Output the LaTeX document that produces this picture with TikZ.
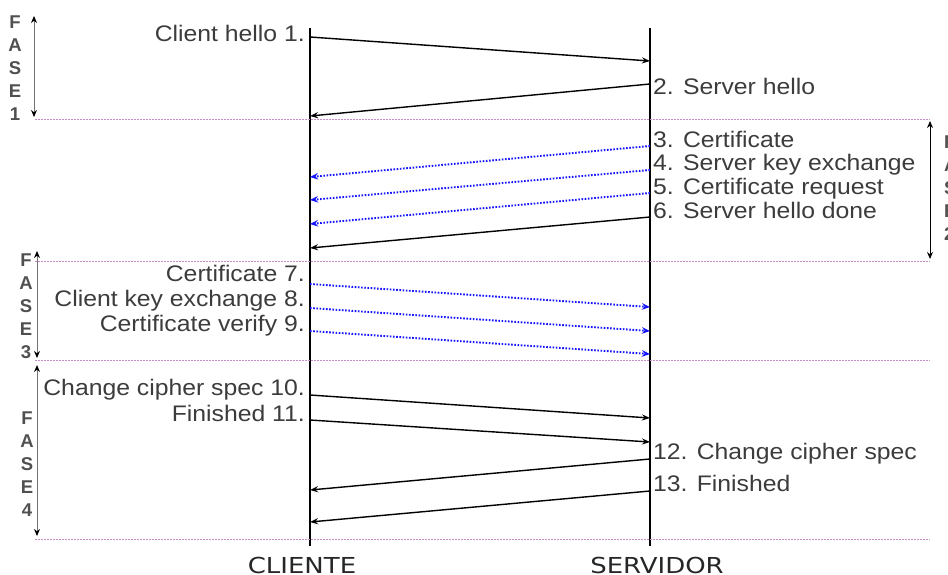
\documentclass[tikz,border=0pt]{standalone}
\usepackage{fontspec}
\usetikzlibrary{arrows.meta}
\newfontfamily\lblfont[FakeStretch=1.1]{Liberation Sans}
\newfontfamily\phasefont{Liberation Sans}
\newfontfamily\lifefont[FakeStretch=1.18]{DejaVu Sans}
\definecolor{txtgray}{RGB}{60,60,60}
\definecolor{sepcol}{RGB}{200,140,200}
\definecolor{msgblue}{RGB}{20,20,255}
\tikzset{
  msglbl/.style={font=\fontsize{22.5}{26}\selectfont\lblfont, text=txtgray, inner sep=0pt},
  phaselbl/.style={font=\fontsize{18.5}{22}\selectfont\phasefont\bfseries, text=txtgray!90, inner sep=0pt},
  lifelbl/.style={font=\fontsize{22}{26}\selectfont\lifefont, text=black!85, inner sep=0pt},
  lifeline/.style={line width=1.3pt, black},
  msgsolid/.style={line width=1.4pt, black, -{Stealth[length=8pt,width=6pt]}},
  msgdot/.style={line width=1.9pt, msgblue, dash pattern=on 1.6pt off 1.6pt, -{Stealth[length=8pt,width=6.5pt]}},
  sepline/.style={line width=0.8pt, sepcol, dash pattern=on 2pt off 1pt},
  phasearrow/.style={line width=1pt, black!55, {Stealth[black,length=7pt,width=6pt]}-{Stealth[black,length=7pt,width=6pt]}},
}
\begin{document}
\begin{tikzpicture}[x=1pt,y=-1pt]
\fill[white] (0,0) rectangle (948,574);
\useasboundingbox (0,0) rectangle (948,574);

% lifelines
\coordinate (ctop) at (310,28); \coordinate (cbot) at (310,546);
\coordinate (stop) at (650,28); \coordinate (sbot) at (650,546);
\draw[lifeline] (ctop) -- (cbot);
\draw[lifeline] (stop) -- (sbot);
\node[lifelbl] (cl) at (302,565) {CLIENTE};
\node[lifelbl] (sv) at (657,565) {SERVIDOR};

% separators
\coordinate (s1a) at (35,119); \coordinate (s1b) at (930,119);
\coordinate (s2a) at (35,261); \coordinate (s2b) at (930,261);
\coordinate (s3a) at (35,360); \coordinate (s3b) at (930,360);
\coordinate (s4a) at (35,539); \coordinate (s4b) at (930,539);
\draw[sepline] (s1a) -- (s1b);
\draw[sepline] (s2a) -- (s2b);
\draw[sepline] (s3a) -- (s3b);
\draw[sepline] (s4a) -- (s4b);

% phase arrows
\coordinate (p1a) at (34,16); \coordinate (p1b) at (34,117);
\coordinate (p2a) at (930,121); \coordinate (p2b) at (930,259);
\coordinate (p3a) at (37,251); \coordinate (p3b) at (37,358);
\coordinate (p4a) at (37,365); \coordinate (p4b) at (37,536);
\draw[phasearrow] (p1a) -- (p1b);
\draw[phasearrow, black] (p2a) -- (p2b);
\draw[phasearrow] (p3a) -- (p3b);
\draw[phasearrow] (p4a) -- (p4b);

% phase letters
\foreach \ch [count=\i from 0] in {F,A,S,E,1} { \node[phaselbl] (f1\i) at (15,22+23*\i) {\ch}; }
\foreach \ch [count=\i from 0] in {F,A,S,E,2} { \node[phaselbl, anchor=west] (f2\i) at (944,142+23*\i) {\ch}; }
\foreach \ch [count=\i from 0] in {F,A,S,E,3} { \node[phaselbl] (f3\i) at (26,260+23*\i) {\ch}; }
\foreach \ch [count=\i from 0] in {F,A,S,E,4} { \node[phaselbl] (f4\i) at (27,418+23*\i) {\ch}; }

% message endpoints
\coordinate (m1a) at (310,37);  \coordinate (m1b) at (650,61);
\coordinate (m2a) at (650,84);  \coordinate (m2b) at (310,116);
\coordinate (m3a) at (650,146); \coordinate (m3b) at (310,177);
\coordinate (m4a) at (650,170); \coordinate (m4b) at (310,200);
\coordinate (m5a) at (650,193); \coordinate (m5b) at (310,224);
\coordinate (m6a) at (650,217); \coordinate (m6b) at (310,248);
\coordinate (m7a) at (310,284); \coordinate (m7b) at (650,307);
\coordinate (m8a) at (310,308); \coordinate (m8b) at (650,331);
\coordinate (m9a) at (310,331); \coordinate (m9b) at (650,354);
\coordinate (m10a) at (310,395); \coordinate (m10b) at (650,418);
\coordinate (m11a) at (310,420); \coordinate (m11b) at (650,442);
\coordinate (m12a) at (650,459); \coordinate (m12b) at (310,490);
\coordinate (m13a) at (650,491); \coordinate (m13b) at (310,522);

\draw[msgsolid] (m1a) -- (m1b);
\draw[msgsolid] (m2a) -- (m2b);
\draw[msgdot] (m3a) -- (m3b);
\draw[msgdot] (m4a) -- (m4b);
\draw[msgdot] (m5a) -- (m5b);
\draw[msgsolid] (m6a) -- (m6b);
\draw[msgdot] (m7a) -- (m7b);
\draw[msgdot] (m8a) -- (m8b);
\draw[msgdot] (m9a) -- (m9b);
\draw[msgsolid] (m10a) -- (m10b);
\draw[msgsolid] (m11a) -- (m11b);
\draw[msgsolid] (m12a) -- (m12b);
\draw[msgsolid] (m13a) -- (m13b);

% labels
\node[msglbl, anchor=base east] (l1) at (305,41) {Client hello 1.};
\node[msglbl, anchor=base west] (l2) at (653,94) {2. Server hello};
\node[msglbl, anchor=base west] (l3) at (653,147) {3. Certificate};
\node[msglbl, anchor=base west] (l4) at (653,170) {4. Server key exchange};
\node[msglbl, anchor=base west] (l5) at (653,194) {5. Certificate request};
\node[msglbl, anchor=base west] (l6) at (653,218) {6. Server hello done};
\node[msglbl, anchor=base east] (l7) at (305,281) {Certificate 7.};
\node[msglbl, anchor=base east] (l8) at (305,306) {Client key exchange 8.};
\node[msglbl, anchor=base east] (l9) at (305,331) {Certificate verify 9.};
\node[msglbl, anchor=base east] (l10) at (305,395) {Change cipher spec 10.};
\node[msglbl, anchor=base east] (l11) at (305,421) {Finished 11.};
\node[msglbl, anchor=base west] (l12) at (653,459) {12. Change cipher spec};
\node[msglbl, anchor=base west] (l13) at (653,491) {13. Finished};
\end{tikzpicture}
\end{document}
